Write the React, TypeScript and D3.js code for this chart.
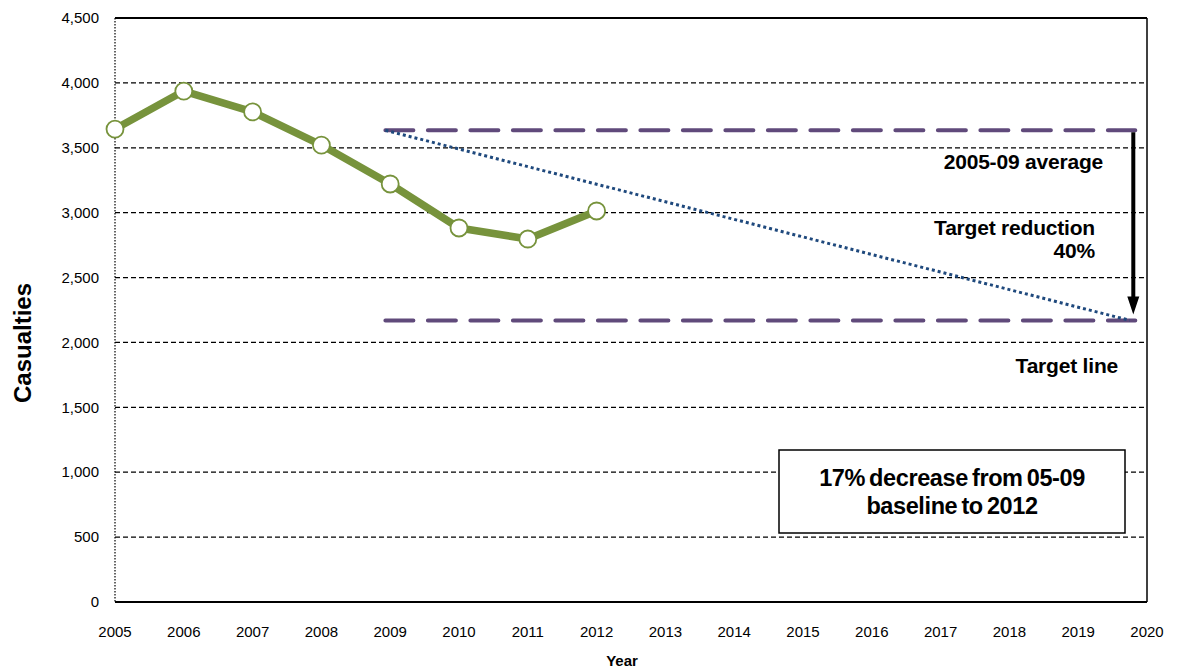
import React, { useEffect, useRef } from "react";
import * as d3 from "d3";

// observed casualties
const years = [2005, 2006, 2007, 2008, 2009, 2010, 2011, 2012];
const casualties = [3644, 3937, 3776, 3521, 3221, 2882, 2797, 3013];

// reference lines
const baselineAvg = 3635;
const targetValue = 2170;
const refStart = 2008.93;
const refEnd = 2019.83;
const trendEnd = 2019.75;

const yTicks = [0, 500, 1000, 1500, 2000, 2500, 3000, 3500, 4000, 4500];
const xTicks = d3.range(2005, 2021);

const App = () => {
  const ref = useRef<SVGSVGElement>(null);

  useEffect(() => {
    const svg = d3.select(ref.current);
    svg.selectAll("*").remove();

    const margin = { top: 18, right: 30, bottom: 69, left: 115 };
    const W = 1177;
    const H = 671;

    const x = d3.scaleLinear().domain([2005, 2020]).range([margin.left, W - margin.right]);
    const y = d3.scaleLinear().domain([0, 4500]).range([H - margin.bottom, margin.top]);
    const font = "Arial, 'Liberation Sans', sans-serif";

    // gridlines
    svg
      .append("g")
      .selectAll("line")
      .data(yTicks.filter((d) => d > 0 && d < 4500))
      .join("line")
      .attr("x1", x(2005))
      .attr("x2", x(2020))
      .attr("y1", (d) => y(d))
      .attr("y2", (d) => y(d))
      .attr("stroke", "#000")
      .attr("stroke-width", 1.3)
      .attr("stroke-dasharray", "5,3");

    // frame: solid top, right, bottom; dotted left
    const frame = svg.append("g").attr("stroke", "#000").attr("fill", "none");
    frame.append("line").attr("x1", x(2005)).attr("x2", x(2020)).attr("y1", y(4500)).attr("y2", y(4500)).attr("stroke-width", 2);
    frame.append("line").attr("x1", x(2020)).attr("x2", x(2020)).attr("y1", y(4500)).attr("y2", y(0)).attr("stroke-width", 1.5);
    frame.append("line").attr("x1", x(2005)).attr("x2", x(2020)).attr("y1", y(0)).attr("y2", y(0)).attr("stroke-width", 2);
    frame.append("line").attr("x1", x(2005)).attr("x2", x(2005)).attr("y1", y(4500)).attr("y2", y(0)).attr("stroke-width", 1.2).attr("stroke-dasharray", "1.5,1.5");

    // y tick labels
    svg
      .append("g")
      .selectAll("text")
      .data(yTicks)
      .join("text")
      .attr("x", x(2005) - 16)
      .attr("y", (d) => y(d))
      .attr("dy", "0.35em")
      .attr("text-anchor", "end")
      .attr("font-family", font)
      .attr("font-size", 15)
      .attr("fill", "#000")
      .text((d) => d3.format(",")(d));

    // x tick labels
    svg
      .append("g")
      .selectAll("text")
      .data(xTicks)
      .join("text")
      .attr("x", (d) => x(d))
      .attr("y", y(0) + 35)
      .attr("text-anchor", "middle")
      .attr("font-family", font)
      .attr("font-size", 15)
      .attr("fill", "#000")
      .text((d) => String(d));

    // axis titles
    svg
      .append("text")
      .attr("x", 622)
      .attr("y", 666)
      .attr("text-anchor", "middle")
      .attr("font-family", font)
      .attr("font-size", 15)
      .attr("font-weight", "bold")
      .text("Year");

    svg
      .append("text")
      .attr("transform", `translate(31,343) rotate(-90)`)
      .attr("text-anchor", "middle")
      .attr("font-family", font)
      .attr("font-size", 24)
      .attr("font-weight", "bold")
      .text("Casualties");

    // purple reference lines
    svg
      .append("g")
      .selectAll("line")
      .data([baselineAvg, targetValue])
      .join("line")
      .attr("x1", x(refStart))
      .attr("x2", x(refEnd))
      .attr("y1", (d) => y(d))
      .attr("y2", (d) => y(d))
      .attr("stroke", "#604A7B")
      .attr("stroke-width", 4)
      .attr("stroke-linecap", "round")
      .attr("stroke-dasharray", "28,14.5");

    // trend dotted line
    svg
      .append("line")
      .attr("x1", x(refStart))
      .attr("y1", y(baselineAvg))
      .attr("x2", x(trendEnd))
      .attr("y2", y(targetValue))
      .attr("stroke", "#1F497D")
      .attr("stroke-width", 3)
      .attr("stroke-dasharray", "3,3");

    // arrow
    const ax = x(refEnd) - 2;
    svg
      .append("line")
      .attr("x1", ax)
      .attr("x2", ax)
      .attr("y1", y(baselineAvg) + 2)
      .attr("y2", y(targetValue) - 20)
      .attr("stroke", "#000")
      .attr("stroke-width", 4);
    svg
      .append("path")
      .attr("d", `M${ax - 6},${y(targetValue) - 24} L${ax + 6},${y(targetValue) - 24} L${ax},${y(targetValue) - 6} Z`)
      .attr("fill", "#000");

    // casualty line
    svg
      .append("path")
      .datum(years.map((d, i) => [d, casualties[i]] as [number, number]))
      .attr("fill", "none")
      .attr("stroke", "#77933C")
      .attr("stroke-width", 7.5)
      .attr("stroke-linejoin", "round")
      .attr("d", d3.line<[number, number]>().x((d) => x(d[0])).y((d) => y(d[1])));

    svg
      .append("g")
      .selectAll("circle")
      .data(years)
      .join("circle")
      .attr("cx", (d) => x(d))
      .attr("cy", (d, i) => y(casualties[i]))
      .attr("r", 8.5)
      .attr("fill", "#fff")
      .attr("stroke", "#77933C")
      .attr("stroke-width", 1.8);

    // annotations
    const notes = [
      { t: "2005-09 average", x: 1103, y: 169 },
      { t: "Target reduction", x: 1095, y: 235 },
      { t: "40%", x: 1095, y: 258 },
      { t: "Target line", x: 1118, y: 373 },
    ];
    svg
      .append("g")
      .selectAll("text")
      .data(notes)
      .join("text")
      .attr("x", (d) => d.x)
      .attr("y", (d) => d.y)
      .attr("text-anchor", "end")
      .attr("font-family", font)
      .attr("font-size", 21)
      .attr("font-weight", "bold")
      .attr("letter-spacing", "-0.2")
      .text((d) => d.t);

    // box
    svg
      .append("rect")
      .attr("x", 779)
      .attr("y", 450)
      .attr("width", 346)
      .attr("height", 83)
      .attr("fill", "#fff")
      .attr("stroke", "#000")
      .attr("stroke-width", 1.5);
    svg
      .append("g")
      .selectAll("text")
      .data(["17% decrease from 05-09", "baseline to 2012"])
      .join("text")
      .attr("x", 952)
      .attr("y", (d, i) => 486 + i * 28)
      .attr("text-anchor", "middle")
      .attr("font-family", font)
      .attr("font-size", 23.5)
      .attr("font-weight", "bold")
      .attr("letter-spacing", "-0.4")
      .attr("word-spacing", "-2")
      .text((d) => d);
  }, []);

  return (
    <svg
      ref={ref}
      width={1177}
      height={671}
      viewBox="0 0 1177 671"
      style={{ position: "absolute", left: 0, top: 0, background: "#fff" }}
    />
  );
};

export default App;
